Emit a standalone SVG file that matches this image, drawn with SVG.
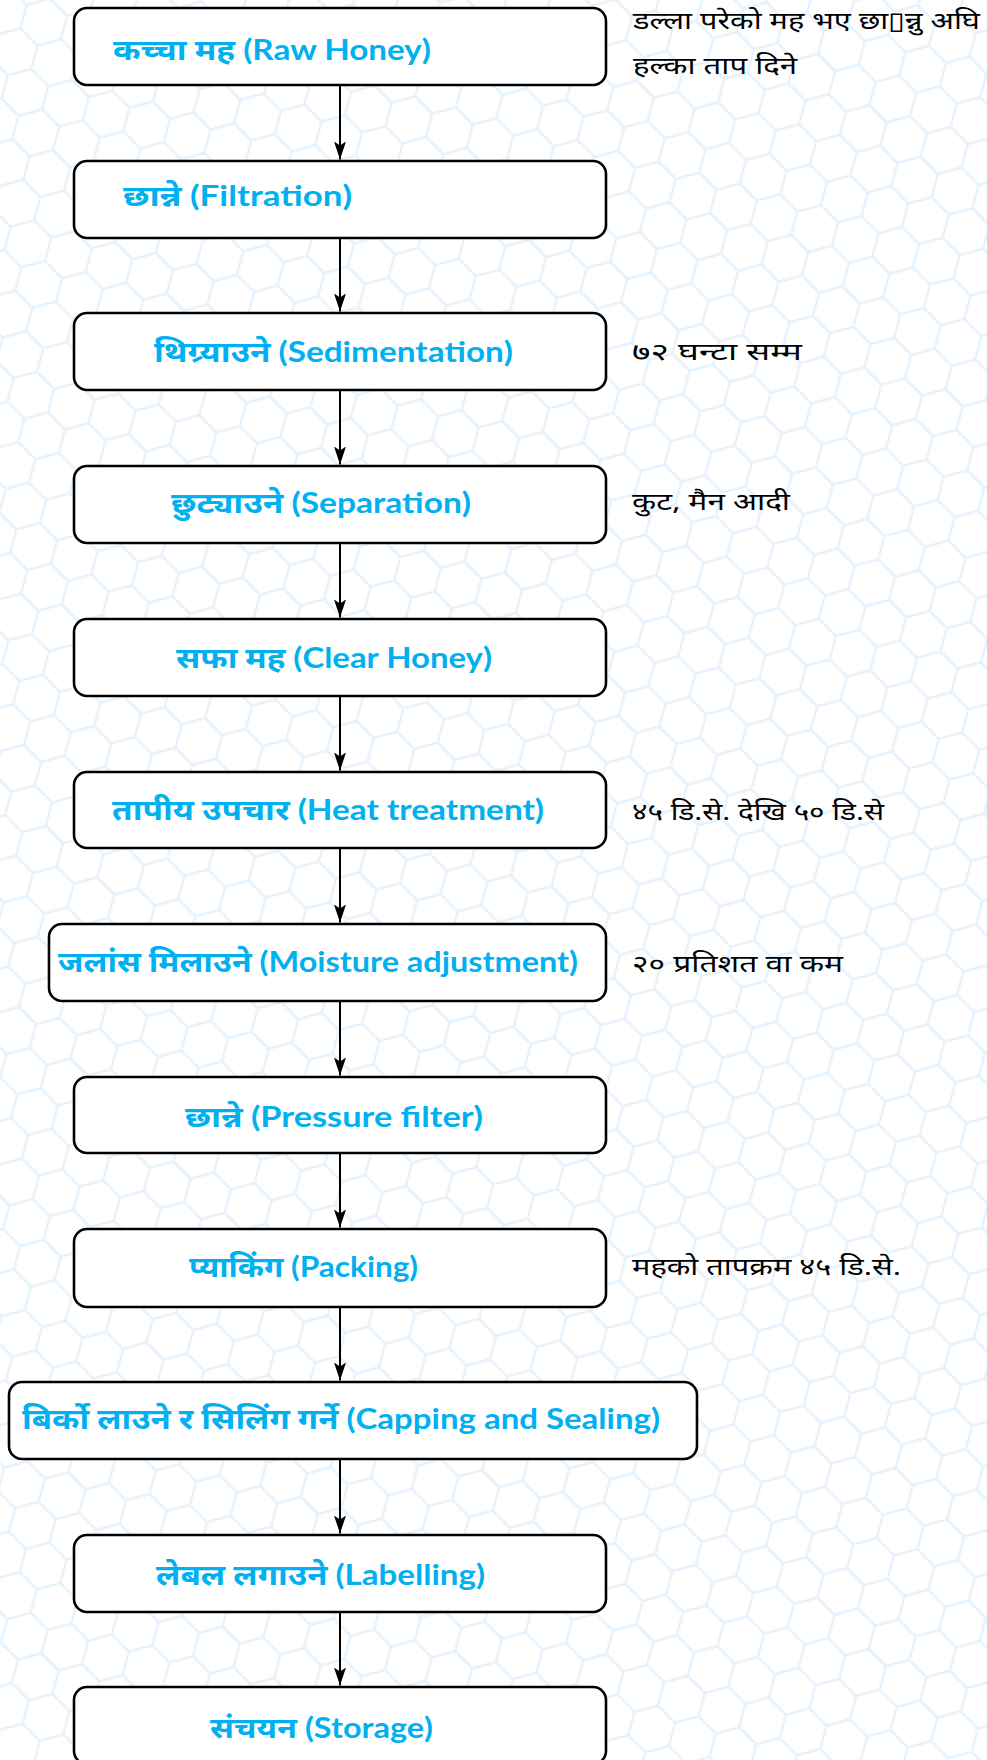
<svg xmlns="http://www.w3.org/2000/svg" width="987" height="1760" viewBox="0 0 987 1760">
<style>
.box{fill:#ffffff;stroke:#000000;stroke-width:2.6}
.lbl{font-family:Lato,"Noto Sans Devanagari","Noto Sans","Liberation Sans",sans-serif;font-weight:700;font-size:29px;fill:#00b0f0}
.note{font-family:"Noto Sans Devanagari","Noto Sans","Liberation Sans",sans-serif;font-size:24px;fill:#000000}
.conn{stroke:#000000;stroke-width:2;fill:none}
</style>
<defs>
<pattern id="honey" width="42" height="72.75" patternUnits="userSpaceOnUse" patternTransform="rotate(15) translate(6,10)">
<path d="M21,0 V12.12 L0,24.25 V48.5 L21,60.62 V72.75 M21,12.12 L42,24.25 V48.5 L21,60.62" fill="none" stroke="#e6f2fc" stroke-width="2.6"/>
</pattern>
<marker id="arr" viewBox="0 0 18 12" refX="18" refY="6" markerWidth="18" markerHeight="12" markerUnits="userSpaceOnUse" orient="auto">
<path d="M0,0 L18,6 L0,12 L4,6 z" fill="#000000"/>
</marker>
</defs>
<rect x="0" y="0" width="987" height="1760" fill="#ffffff"/>
<rect x="0" y="0" width="987" height="1760" fill="url(#honey)"/>

<g id="connectors">
<line class="conn" x1="340" y1="86" x2="340" y2="159.5" marker-end="url(#arr)"/>
<line class="conn" x1="340" y1="239" x2="340" y2="311.5" marker-end="url(#arr)"/>
<line class="conn" x1="340" y1="391" x2="340" y2="464.5" marker-end="url(#arr)"/>
<line class="conn" x1="340" y1="544" x2="340" y2="617.5" marker-end="url(#arr)"/>
<line class="conn" x1="340" y1="697" x2="340" y2="770.5" marker-end="url(#arr)"/>
<line class="conn" x1="340" y1="849" x2="340" y2="922.5" marker-end="url(#arr)"/>
<line class="conn" x1="340" y1="1002" x2="340" y2="1075.5" marker-end="url(#arr)"/>
<line class="conn" x1="340" y1="1154" x2="340" y2="1227.5" marker-end="url(#arr)"/>
<line class="conn" x1="340" y1="1308" x2="340" y2="1380.5" marker-end="url(#arr)"/>
<line class="conn" x1="340" y1="1460" x2="340" y2="1533.5" marker-end="url(#arr)"/>
<line class="conn" x1="340" y1="1613" x2="340" y2="1685.5" marker-end="url(#arr)"/>
</g>

<g id="n1"><rect class="box" x="74" y="8" width="532" height="77" rx="13"/><text class="lbl" x="113" y="60" textLength="318" lengthAdjust="spacingAndGlyphs">कच्चा मह (Raw Honey)</text></g>
<g id="n2"><rect class="box" x="74" y="161" width="532" height="77" rx="13"/><text class="lbl" x="123" y="206" textLength="229" lengthAdjust="spacingAndGlyphs">छान्ने (Filtration)</text></g>
<g id="n3"><rect class="box" x="74" y="313" width="532" height="77" rx="13"/><text class="lbl" x="154" y="362" textLength="359" lengthAdjust="spacingAndGlyphs">थिग्र्याउने (Sedimentation)</text></g>
<g id="n4"><rect class="box" x="74" y="466" width="532" height="77" rx="13"/><text class="lbl" x="171" y="513" textLength="300" lengthAdjust="spacingAndGlyphs">छुट्याउने (Separation)</text></g>
<g id="n5"><rect class="box" x="74" y="619" width="532" height="77" rx="13"/><text class="lbl" x="176" y="668" textLength="316" lengthAdjust="spacingAndGlyphs">सफा मह (Clear Honey)</text></g>
<g id="n6"><rect class="box" x="74" y="772" width="532" height="76" rx="13"/><text class="lbl" x="112" y="820" textLength="432" lengthAdjust="spacingAndGlyphs">तापीय उपचार (Heat treatment)</text></g>
<g id="n7"><rect class="box" x="49" y="924" width="557" height="77" rx="13"/><text class="lbl" x="58" y="972" textLength="520" lengthAdjust="spacingAndGlyphs">जलांस मिलाउने (Moisture adjustment)</text></g>
<g id="n8"><rect class="box" x="74" y="1077" width="532" height="76" rx="13"/><text class="lbl" x="185" y="1127" textLength="298" lengthAdjust="spacingAndGlyphs">छान्ने (Pressure filter)</text></g>
<g id="n9"><rect class="box" x="74" y="1229" width="532" height="78" rx="13"/><text class="lbl" x="189" y="1277" textLength="229" lengthAdjust="spacingAndGlyphs">प्याकिंग (Packing)</text></g>
<g id="n10"><rect class="box" x="9" y="1382" width="688" height="77" rx="13"/><text class="lbl" x="22" y="1429" textLength="638" lengthAdjust="spacingAndGlyphs">बिर्को लाउने र सिलिंग गर्ने (Capping and Sealing)</text></g>
<g id="n11"><rect class="box" x="74" y="1535" width="532" height="77" rx="13"/><text class="lbl" x="156" y="1585" textLength="329" lengthAdjust="spacingAndGlyphs">लेबल लगाउने (Labelling)</text></g>
<g id="n12"><rect class="box" x="74" y="1687" width="532" height="77" rx="13"/><text class="lbl" x="210" y="1738" textLength="223" lengthAdjust="spacingAndGlyphs">संचयन (Storage)</text></g>

<g id="notes">
<text class="note" x="633" y="29" textLength="347" lengthAdjust="spacingAndGlyphs">डल्ला परेको मह भए छा▯न्नु अघि</text>
<text class="note" x="633" y="74" textLength="164" lengthAdjust="spacingAndGlyphs">हल्का ताप दिने</text>
<text class="note" x="632" y="360" textLength="170" lengthAdjust="spacingAndGlyphs">७२ घन्टा सम्म</text>
<text class="note" x="632" y="510" textLength="158" lengthAdjust="spacingAndGlyphs">कुट, मैन आदी</text>
<text class="note" x="632" y="820" textLength="252" lengthAdjust="spacingAndGlyphs">४५ डि.से. देखि ५० डि.से</text>
<text class="note" x="632" y="972" textLength="211" lengthAdjust="spacingAndGlyphs">२० प्रतिशत वा कम</text>
<text class="note" x="632" y="1275" textLength="269" lengthAdjust="spacingAndGlyphs">महको तापक्रम ४५ डि.से.</text>
</g>
</svg>
